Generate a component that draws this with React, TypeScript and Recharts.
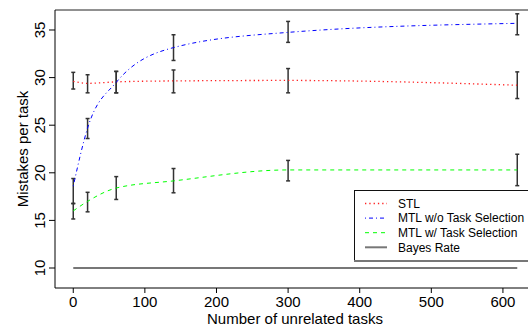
import React from 'react';
import { ComposedChart, Line, XAxis, YAxis, ErrorBar, ReferenceLine, Label } from 'recharts';

const xs = [0, 20, 60, 140, 300, 620];
const stl = [29.6, 29.4, 29.55, 29.65, 29.7, 29.2];
const stlLow = [28.8, 28.4, 28.4, 28.4, 28.4, 27.8];
const stlHigh = [30.55, 30.3, 30.65, 30.8, 30.95, 30.6];
const mtlNo = [18.6, 24.7, 29.5, 33.15, 34.75, 35.7];
const mtlNoLow = [16.8, 23.6, 28.4, 31.8, 33.7, 34.5];
const mtlNoHigh = [19.4, 25.7, 30.65, 34.5, 35.9, 36.7];
const mtlSel = [16.0, 17.0, 18.4, 19.15, 20.3, 20.3];
const mtlSelLow = [15.15, 15.9, 17.2, 17.9, 19.15, 18.65];
const mtlSelHigh = [16.75, 17.95, 19.6, 20.45, 21.3, 21.95];
const bayes = [10, 10, 10, 10, 10, 10];

const xTicks = [0, 100, 200, 300, 400, 500, 600];
const yTicks = [10, 15, 20, 25, 30, 35];
const seriesNames = ['STL', 'MTL w/o Task Selection', 'MTL w/ Task Selection', 'Bayes Rate'];

const data = xs.map((x, i) => ({
  x,
  stl: stl[i],
  stlErr: [stl[i] - stlLow[i], stlHigh[i] - stl[i]],
  mtlNo: mtlNo[i],
  mtlNoErr: [mtlNo[i] - mtlNoLow[i], mtlNoHigh[i] - mtlNo[i]],
  mtlSel: mtlSel[i],
  mtlSelErr: [mtlSel[i] - mtlSelLow[i], mtlSelHigh[i] - mtlSel[i]],
  bayes: bayes[i],
}));

const FONT = '"Liberation Sans", Arial, sans-serif';

const legendStyles = [
  { stroke: '#ff2020', dash: '1.3 3', width: 1.3 },
  { stroke: '#0000ff', dash: '1 3 4 3', width: 1 },
  { stroke: '#00ff00', dash: '4 4', width: 1 },
  { stroke: '#777777', dash: undefined, width: 2 },
];

const YTick = (props: any) => {
  const { y, payload } = props;
  return (
    <text
      transform={`translate(45, ${y}) rotate(-90)`}
      textAnchor="middle"
      fontFamily={FONT}
      fontSize={15}
      fill="#000"
    >
      {payload.value}
    </text>
  );
};

const LegendBox = () => (
  <svg width={174} height={72} style={{ position: 'absolute', left: 354, top: 190, display: 'block' }}>
    <rect x={0} y={0} width={174} height={72} fill="#fff" />
    <line x1={0} y1={0.5} x2={174} y2={0.5} stroke="#111" strokeWidth={1} />
    <line x1={0.5} y1={0} x2={0.5} y2={72} stroke="#111" strokeWidth={1} />
    <line x1={0} y1={71} x2={174} y2={71} stroke="#777" strokeWidth={2} />
    {seriesNames.map((name, i) => {
      const cy = 13.5 + i * 14.6;
      const s = legendStyles[i];
      return (
        <g key={name}>
          <line x1={11} x2={33} y1={cy} y2={cy} stroke={s.stroke} strokeWidth={s.width} strokeDasharray={s.dash} />
          <text x={44} y={cy + 4.3} fontFamily={FONT} fontSize={12} fill="#000">{name}</text>
        </g>
      );
    })}
  </svg>
);

export default function App() {
  return (
    <div style={{ position: 'absolute', left: 0, top: 0, width: 528, height: 330, background: '#fff', overflow: 'hidden' }}>
      <ComposedChart width={528} height={330} data={data} margin={{ top: 10, right: 0, bottom: 0, left: 0 }}>
        <XAxis
          dataKey="x"
          type="number"
          domain={[-25.5, 635]}
          allowDataOverflow
          ticks={xTicks}
          height={42}
          tickSize={5}
          tickMargin={3}
          stroke="#000"
          tick={{ fill: '#000', fontSize: 15, fontFamily: FONT }}
        >
          <Label
            content={() => (
              <text x={295} y={324} textAnchor="middle" fontFamily={FONT} fontSize={15} fill="#000">
                Number of unrelated tasks
              </text>
            )}
          />
        </XAxis>
        <YAxis
          type="number"
          domain={[7.9, 37.1]}
          allowDataOverflow
          ticks={yTicks}
          width={55}
          tickSize={6}
          stroke="#000"
          tick={<YTick />}
        >
          <Label
            content={() => (
              <text
                transform="translate(28, 149) rotate(-90)"
                textAnchor="middle"
                fontFamily={FONT}
                fontSize={15}
                fill="#000"
              >
                Mistakes per task
              </text>
            )}
          />
        </YAxis>
        <ReferenceLine y={37.1} stroke="#222" strokeWidth={1} />
        <Line dataKey="bayes" type="linear" stroke="#777777" strokeWidth={2} dot={false} isAnimationActive={false} />
        <Line dataKey="stl" type="monotone" stroke="#ff2020" strokeWidth={1.3} strokeDasharray="1.3 3" dot={false} isAnimationActive={false}>
          <ErrorBar dataKey="stlErr" width={2} stroke="#333" strokeWidth={1.5} direction="y" isAnimationActive={false} />
        </Line>
        <Line dataKey="mtlNo" type="monotone" stroke="#0000ff" strokeWidth={1} strokeDasharray="1 3 4 3" dot={false} isAnimationActive={false}>
          <ErrorBar dataKey="mtlNoErr" width={2} stroke="#333" strokeWidth={1.5} direction="y" isAnimationActive={false} />
        </Line>
        <Line dataKey="mtlSel" type="monotone" stroke="#00ff00" strokeWidth={1} strokeDasharray="4 4" dot={false} isAnimationActive={false}>
          <ErrorBar dataKey="mtlSelErr" width={2} stroke="#333" strokeWidth={1.5} direction="y" isAnimationActive={false} />
        </Line>
      </ComposedChart>
      <LegendBox />
    </div>
  );
}
